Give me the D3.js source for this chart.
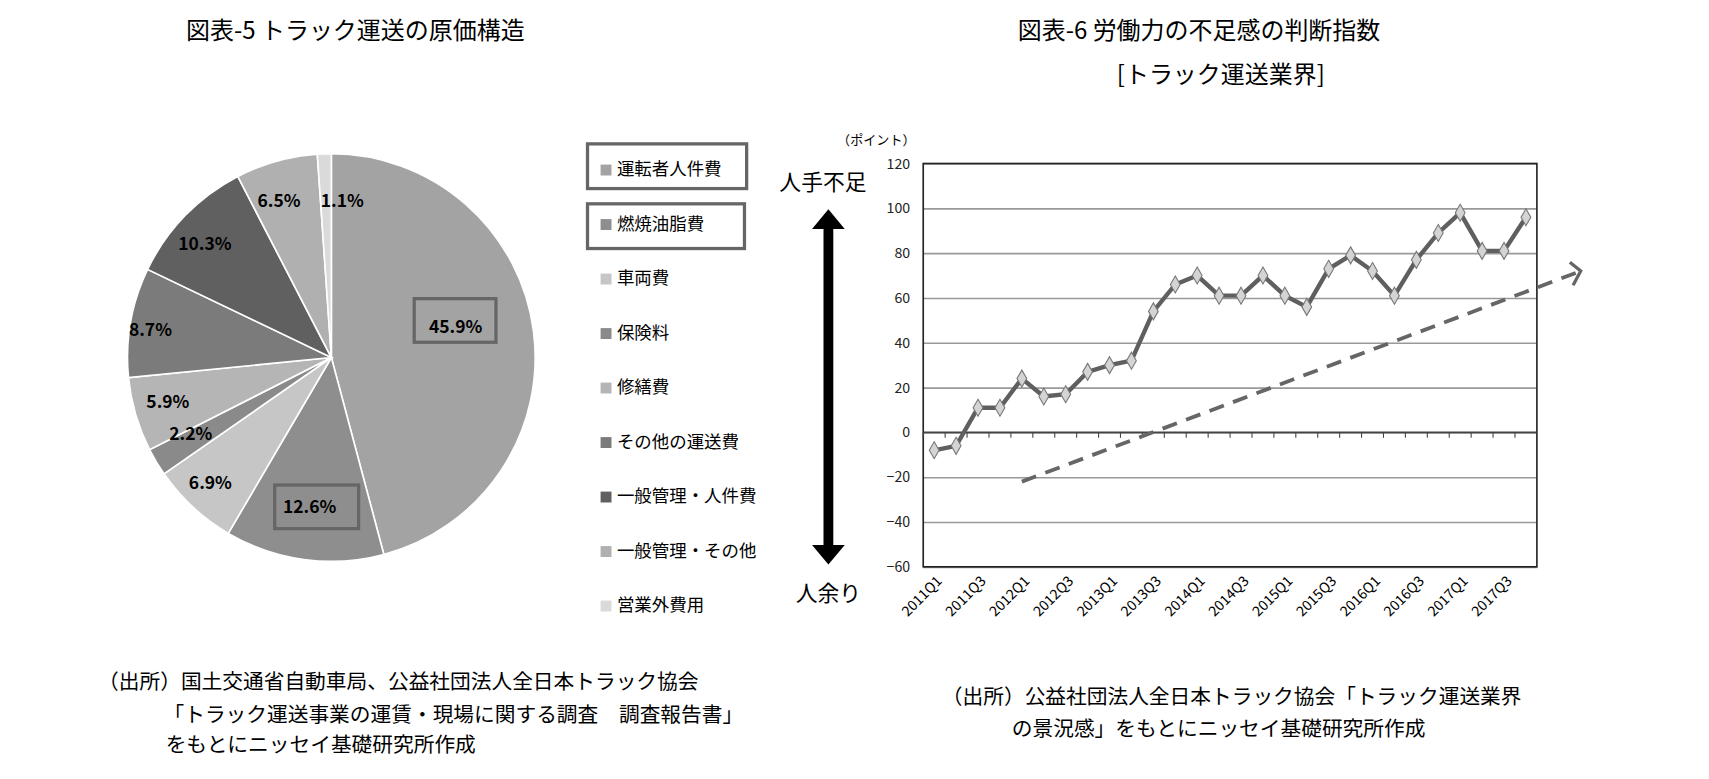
<!DOCTYPE html>
<html><head><meta charset="utf-8">
<script src="https://cdn.jsdelivr.net/npm/d3@7"></script>
<style>body{margin:0;background:#fff}text{font-family:"Noto Sans CJK JP",sans-serif}</style>
</head><body><svg id="c" width="1709" height="779"></svg>
<script>
// pie data
var costNames = ["運転者人件費","燃焼油脂費","車両費","保険料","修繕費","その他の運送費","一般管理・人件費","一般管理・その他","営業外費用"];
var costShares = [45.9, 12.6, 6.9, 2.2, 5.9, 8.7, 10.3, 6.5, 1.1];
var costColors = ["#a3a3a3","#8e8e8e","#c6c6c6","#8a8a8a","#b5b5b5","#7b7b7b","#606060","#b0b0b0","#dadada"];
// line data
var quarters = ["2011Q1","2011Q2","2011Q3","2011Q4","2012Q1","2012Q2","2012Q3","2012Q4","2013Q1","2013Q2","2013Q3","2013Q4",
  "2014Q1","2014Q2","2014Q3","2014Q4","2015Q1","2015Q2","2015Q3","2015Q4","2016Q1","2016Q2","2016Q3","2016Q4",
  "2017Q1","2017Q2","2017Q3","2017Q4"];
var shortage = [-8,-6,11,11,24,16,17,27,30,32,54,66,70,61,61,70,61,56,73,79,72,61,77,89,98,81,81,96];
var yTicks = [-60,-40,-20,0,20,40,60,80,100,120];

var svg = d3.select("#c").append("g").attr("transform","scale(1.09)");
function txt(x,y,s,size,anchor,weight){
  return svg.append("text").attr("x",x).attr("y",y).attr("font-size",size)
    .attr("text-anchor",anchor||"start").attr("font-weight",weight||"normal").text(s);
}
txt(326,36,"図表-5  トラック運送の原価構造",22,"middle");
txt(1100,36,"図表-6  労働力の不足感の判断指数",22,"middle");
txt(1120,76,"[トラック運送業界]",22,"middle");

// ---- pie ----
var cx=304, cy=328, r=187;
var pie = d3.pie().sort(null).value(function(d){return d;});
var arcs = pie(costShares);
var arc = d3.arc().innerRadius(0).outerRadius(r);
var g = svg.append("g").attr("transform","translate("+cx+","+cy+")");
g.selectAll("path").data(arcs).enter().append("path")
  .attr("d",arc).attr("fill",function(d,i){return costColors[i];})
  .attr("stroke","#fff").attr("stroke-width",1.5);
var labelPos = [[114,-28],[-20,137],[-111,115],[-129,70],[-150,41],[-166,-25],[-116,-104],[-48,-144],[10,-144]];
arcs.forEach(function(d,i){
  g.append("text").attr("x",labelPos[i][0]).attr("y",labelPos[i][1]).attr("text-anchor","middle")
    .attr("font-size",16).attr("font-weight","bold").attr("dy","0.35em").text(costShares[i].toFixed(1)+"%");
});
g.append("rect").attr("x",76).attr("y",-54).attr("width",75).attr("height",40).attr("fill","none").attr("stroke","#666").attr("stroke-width",3);
g.append("rect").attr("x",-52).attr("y",117).attr("width",77).attr("height",40).attr("fill","none").attr("stroke","#666").attr("stroke-width",3);

// legend
costNames.forEach(function(n,i){
  var y = 157 + i*50;
  svg.append("rect").attr("x",551).attr("y",y-6).attr("width",10).attr("height",10).attr("fill",costColors[i]);
  txt(566,y+4,n,16);
});
svg.append("rect").attr("x",539).attr("y",132).attr("width",146).attr("height",41).attr("fill","none").attr("stroke","#666").attr("stroke-width",3);
svg.append("rect").attr("x",539).attr("y",187).attr("width",144).attr("height",41).attr("fill","none").attr("stroke","#666").attr("stroke-width",3);

// ---- line chart ----
var x0=847, x1=1410, y0=150, y1=520;
var x = d3.scaleBand().domain(quarters).range([x0,x1]);
var y = d3.scaleLinear().domain([-60,120]).range([y1,y0]);
var cxp = function(q){return x(q)+x.bandwidth()/2;};
svg.append("g").attr("transform","translate("+x0+",0)")
  .call(d3.axisLeft(y).tickValues(yTicks).tickSize(-(x1-x0)).tickPadding(12))
  .call(function(a){
    a.select(".domain").remove();
    a.selectAll("line").attr("stroke","#999").attr("stroke-width",1.5);
    a.selectAll("text").attr("font-size",13).attr("fill","#222");
  });
svg.append("rect").attr("x",x0).attr("y",y0).attr("width",x1-x0).attr("height",y1-y0).attr("fill","none").attr("stroke","#222").attr("stroke-width",1.5);
svg.append("line").attr("x1",x0).attr("x2",x1).attr("y1",y(0)).attr("y2",y(0)).attr("stroke","#444").attr("stroke-width",1.5);
quarters.forEach(function(q){
  svg.append("line").attr("x1",x(q)).attr("x2",x(q)).attr("y1",y(0)).attr("y2",y(0)+5).attr("stroke","#444");
});
quarters.forEach(function(q,i){
  if(i%2) return;
  svg.append("text").attr("transform","translate("+(cxp(q)+8)+","+(y1+14)+") rotate(-45)")
    .attr("text-anchor","end").attr("font-size",13).text(q);
});
// trend (dashed arrow)
var trend = [[4,-22],[29.5,72]];
var tx = function(v){return x(quarters[0])+x.bandwidth()/2 + v*x.step();};
svg.append("line").attr("x1",tx(trend[0][0])).attr("y1",y(trend[0][1])).attr("x2",tx(trend[1][0])).attr("y2",y(trend[1][1]))
  .attr("stroke","#666").attr("stroke-width",3.5).attr("stroke-dasharray","14,9");
var ax=tx(trend[1][0]), ay=y(trend[1][1]);
svg.append("path").attr("d","M"+(ax-10)+","+(ay-8)+" L"+ax+","+ay+" L"+(ax-7)+","+(ay+13))
  .attr("fill","none").attr("stroke","#666").attr("stroke-width",3);
// series
svg.append("path").datum(shortage)
  .attr("d",d3.line().x(function(d,i){return cxp(quarters[i]);}).y(function(d){return y(d);}))
  .attr("fill","none").attr("stroke","#5f5f5f").attr("stroke-width",4);
svg.selectAll(".pt").data(shortage).enter().append("path")
  .attr("transform",function(d,i){return "translate("+cxp(quarters[i])+","+y(d)+")";})
  .attr("d",d3.symbol(d3.symbolDiamond,70))
  .attr("fill","#d4d4d4").attr("stroke","#777").attr("stroke-width",1);
txt(804,133,"（ポイント）",12,"middle");

// side arrow
txt(755,174,"人手不足",20,"middle");
txt(760,551,"人余り",20,"middle");
svg.append("line").attr("x1",760).attr("x2",760).attr("y1",205).attr("y2",505).attr("stroke","#000").attr("stroke-width",9);
svg.append("path").attr("d","M745,210 L760,192 L775,210 Z").attr("fill","#000");
svg.append("path").attr("d","M745,500 L760,518 L775,500 Z").attr("fill","#000");

// sources
txt(90,632,"（出所）国土交通省自動車局、公益社団法人全日本トラック協会",19);
txt(150,662,"「トラック運送事業の運賃・現場に関する調査　調査報告書」",19);
txt(152,690,"をもとにニッセイ基礎研究所作成",19);
txt(1130,646,"（出所）公益社団法人全日本トラック協会「トラック運送業界",19,"middle");
txt(1118,675,"の景況感」をもとにニッセイ基礎研究所作成",19,"middle");
</script></body></html>
